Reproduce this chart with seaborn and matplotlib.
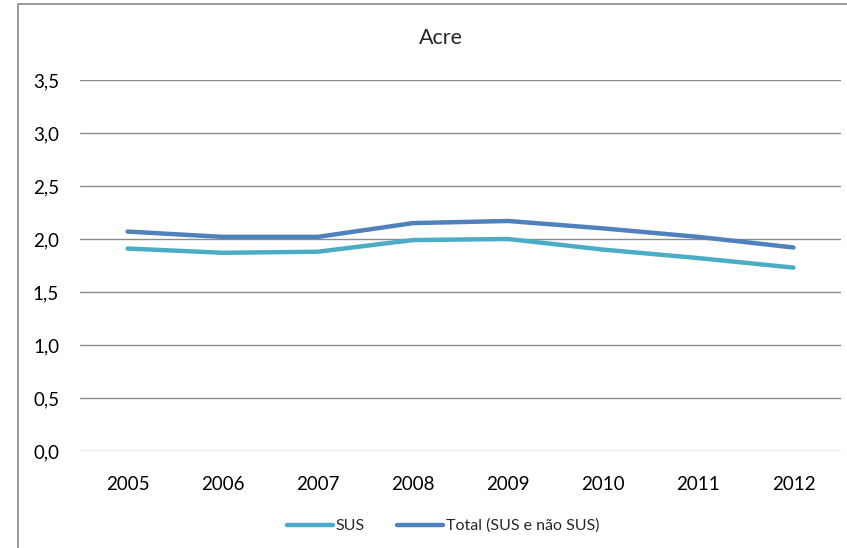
import matplotlib.pyplot as plt
import matplotlib.patches as patches
import pandas as pd
import seaborn as sns
from matplotlib.ticker import FuncFormatter

anos = [2005, 2006, 2007, 2008, 2009, 2010, 2011, 2012]
sus = [1.91, 1.87, 1.88, 1.99, 2.00, 1.90, 1.82, 1.73]
total = [2.07, 2.02, 2.02, 2.15, 2.17, 2.10, 2.02, 1.92]
series_names = ["SUS", "Total (SUS e não SUS)"]
cores = ["#4BACC6", "#4F81BD"]


def build_df():
    """Monta o dataframe longo para o seaborn"""
    df = pd.DataFrame({"ano": anos * 2,
                       "valor": sus + total,
                       "serie": [series_names[0]] * len(anos) + [series_names[1]] * len(anos)})
    return df


def plot(df):
    sns.set_style("white")
    plt.rcParams["font.family"] = ["Lato", "DejaVu Sans"]

    fig = plt.figure(figsize=(8.47, 5.48), dpi=100)
    ax = fig.add_axes([80 / 847, 1 - 451 / 548, 761 / 847, 371 / 548])

    sns.lineplot(data=df, x="ano", y="valor", hue="serie", palette=cores,
                 linewidth=3.2, ax=ax, legend=True)

    ax.set_xlim(2004.5, 2012.5)
    ax.set_ylim(0, 3.5)
    ax.set_yticks([0, 0.5, 1.0, 1.5, 2.0, 2.5, 3.0, 3.5])
    ax.set_xticks(anos)
    ax.yaxis.set_major_formatter(FuncFormatter(lambda v, p: f"{v:.1f}".replace(".", ",")))
    ax.grid(axis="y", color="#8c8c8c", linewidth=1)
    ax.set_axisbelow(True)
    for s in ax.spines.values():
        s.set_visible(False)
    ax.tick_params(axis="both", length=0, labelsize=13.5, colors="black")
    ax.tick_params(axis="y", pad=15)
    ax.tick_params(axis="x", pad=18)
    ax.set_xlabel("")
    ax.set_ylabel("")
    # título centrado na área do gráfico, não no eixo
    ax.set_title("Acre", fontsize=15.5, pad=26, x=(441 - 80) / 761)

    leg = ax.legend(loc="center", bbox_to_anchor=(443 / 847, 1 - 526 / 548),
                    bbox_transform=fig.transFigure, ncol=2, frameon=False,
                    fontsize=11.5, handlelength=2.9, handletextpad=0.15,
                    columnspacing=2.0)
    for line in leg.get_lines():
        line.set_linewidth(3.2)

    # moldura do gráfico
    fig.patches.append(patches.Rectangle((18 / 847, -0.1), 1.0, 1 - 4 / 548 + 0.1,
                                         transform=fig.transFigure, fill=False,
                                         edgecolor="#898989", linewidth=1.2))

    fig.savefig("out.png", dpi=100)
    plt.close(fig)


if __name__ == "__main__":
    plot(build_df())
